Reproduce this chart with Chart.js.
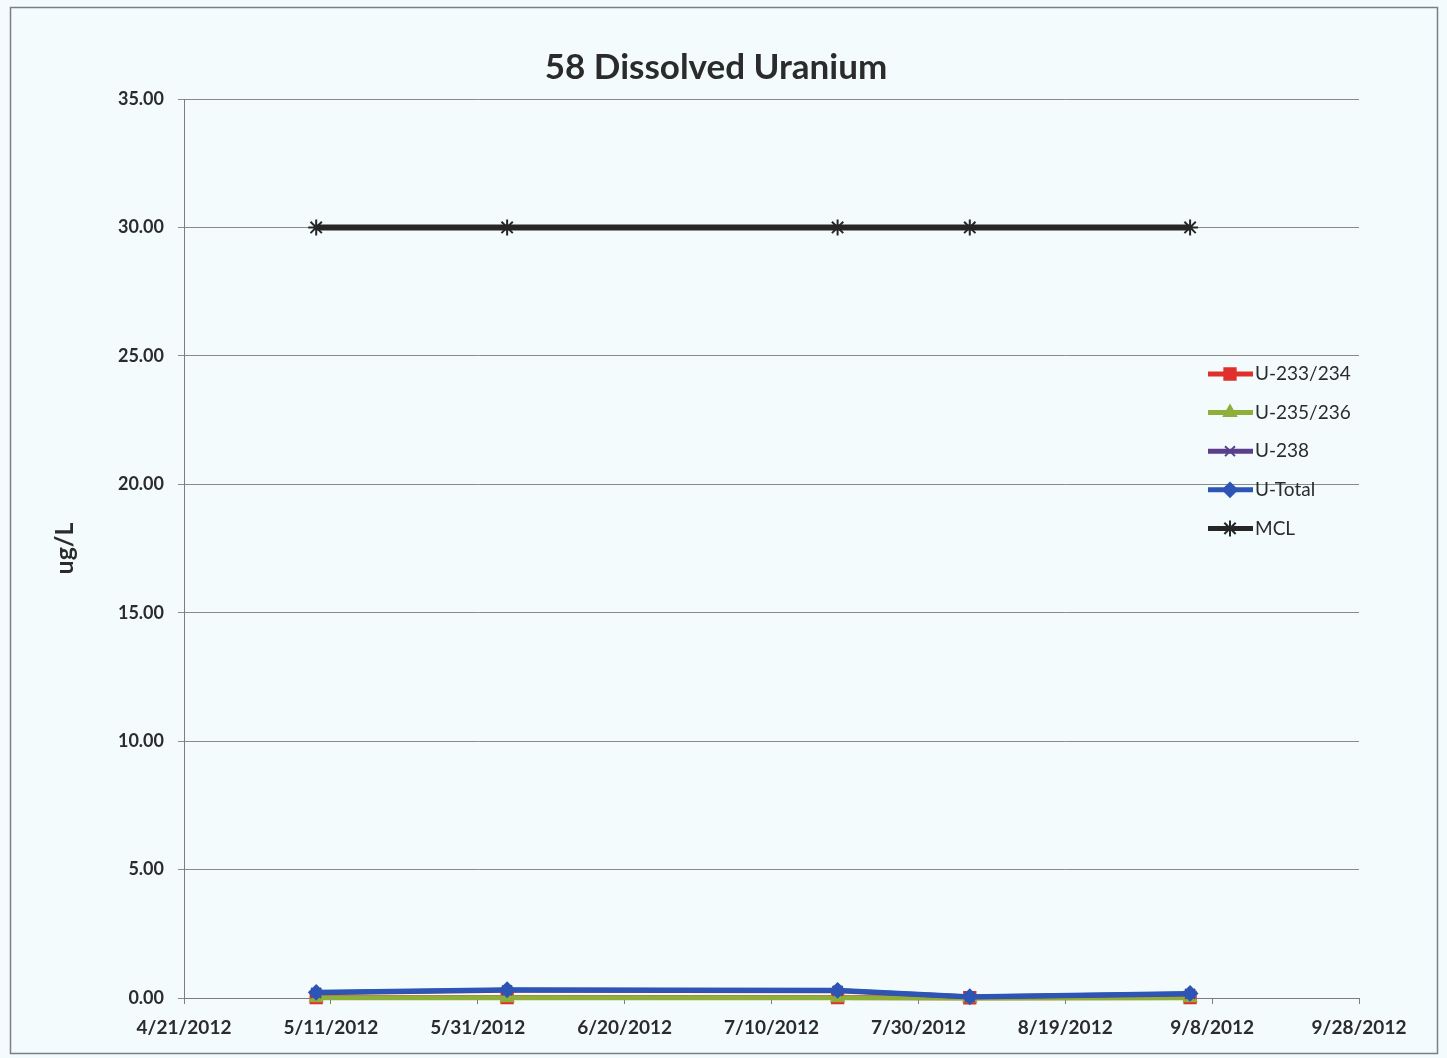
<!DOCTYPE html>
<html>
<head>
<meta charset="utf-8">
<script src="https://cdn.jsdelivr.net/npm/chart.js@4.4.1/dist/chart.umd.min.js"></script>
<style>
  html, body { margin: 0; padding: 0; background: #f3fbfc; }
  #wrap { width: 1447px; height: 1058px; }
</style>
</head>
<body>
<div id="wrap"><canvas id="uraniumChart" width="1447" height="1058"></canvas></div>
<script>
// sample dates and results (ug/L)
const sampleDates = ['5/9/2012', '6/4/2012', '7/19/2012', '8/6/2012', '9/5/2012'];
const u233_234 = [0.02, 0.02, 0.02, 0.01, 0.02];
const u235_236 = [0.01, 0.01, 0.01, 0.00, 0.01];
const u238 = [0.20, 0.30, 0.28, 0.04, 0.16];
const uTotal = [0.22, 0.32, 0.30, 0.05, 0.18];
const mcl = [30, 30, 30, 30, 30];

const xTickLabels = ['4/21/2012', '5/11/2012', '5/31/2012', '6/20/2012', '7/10/2012',
    '7/30/2012', '8/19/2012', '9/8/2012', '9/28/2012'];
const yTickLabels = ['0.00', '5.00', '10.00', '15.00', '20.00', '25.00', '30.00', '35.00'];

const startDate = new Date(2012, 3, 21);

function dayOffset(str) {
    const p = str.split('/');
    const d = new Date(+p[2], +p[0] - 1, +p[1]);
    return Math.round((d - startDate) / 86400000);
}

function points(values) {
    return sampleDates.map((s, i) => ({ x: dayOffset(s), y: values[i] }));
}

const series = [
    { label: 'U-233/234', data: u233_234, color: '#e0302c', style: 'rect', radius: 8, order: 4 },
    { label: 'U-235/236', data: u235_236, color: '#8fae3a', style: 'triangle', radius: 7, order: 3 },
    { label: 'U-238', data: u238, color: '#5b3f8c', style: 'crossRot', radius: 7, order: 2 },
    { label: 'U-Total', data: uTotal, color: '#2d55b5', style: 'rectRot', radius: 7, order: 1 },
    { label: 'MCL', data: mcl, color: '#262626', style: 'star', radius: 8, order: 0 }
];

// page background and outer frame
const framePlugin = {
    id: 'frame',
    beforeDraw(chart) {
        const c = chart.ctx;
        c.save();
        c.fillStyle = '#f3fbfc';
        c.fillRect(0, 0, chart.width, chart.height);
        c.strokeStyle = '#7a7f86';
        c.lineWidth = 1.5;
        c.strokeRect(10.5, 7.5, 1427, 1046);
        c.restore();
    }
};

// legend sitting inside the plot, like the Excel original
const legendPlugin = {
    id: 'insideLegend',
    afterDraw(chart) {
        const c = chart.ctx;
        c.save();
        c.font = '19px Lato';
        c.textBaseline = 'middle';
        series.forEach((s, i) => {
            const y = 374 + i * 38.6;
            c.strokeStyle = s.color;
            c.lineWidth = 5;
            c.beginPath();
            c.moveTo(1208, y);
            c.lineTo(1253, y);
            c.stroke();
            c.fillStyle = s.color;
            c.lineWidth = 2;
            Chart.helpers.drawPoint(c, { pointStyle: s.style, radius: s.radius, rotation: 0, borderWidth: 2 }, 1230, y);
            c.fillStyle = '#2b2b2b';
            c.fillText(s.label, 1255, y);
        });
        c.restore();
    }
};

const ctx = document.getElementById('uraniumChart').getContext('2d');
new Chart(ctx, {
    type: 'line',
    data: {
        datasets: series.map(s => ({
            label: s.label,
            data: points(s.data),
            borderColor: s.color,
            backgroundColor: s.color,
            borderWidth: s.label === 'MCL' ? 6 : 5,
            pointStyle: s.style,
            pointRadius: s.radius,
            pointBorderWidth: 2,
            pointBorderColor: s.color,
            pointBackgroundColor: s.color,
            tension: 0,
            clip: false,
            order: s.order
        }))
    },
    options: {
        responsive: false,
        animation: false,
        layout: { padding: { top: 99, right: 88, bottom: 0, left: 0 } },
        plugins: {
            legend: { display: false },
            tooltip: { enabled: false },
            title: { display: false }
        },
        scales: {
            x: {
                type: 'linear',
                min: 0,
                max: 160,
                afterFit(scale) { scale.height = 60; },
                ticks: {
                    stepSize: 20,
                    padding: 12,
                    maxRotation: 0,
                    color: '#2b2b2b',
                    font: { family: 'Lato', size: 19, weight: 'bold' },
                    callback: (v, i) => xTickLabels[i]
                },
                grid: { drawOnChartArea: false, drawTicks: true, tickLength: 6, color: '#7d7d7d' },
                border: { color: '#7d7d7d', width: 1 }
            },
            y: {
                min: 0,
                max: 35,
                afterFit(scale) { scale.width = 184; },
                ticks: {
                    stepSize: 5,
                    padding: 14,
                    color: '#2b2b2b',
                    font: { family: 'Lato', size: 18, weight: 'bold' },
                    callback: (v, i) => yTickLabels[i]
                },
                grid: { color: '#8a8a8a', lineWidth: 1, tickLength: 6 },
                border: { color: '#7d7d7d', width: 1 },
                title: {
                    display: true,
                    text: 'ug/L',
                    color: '#2b2b2b',
                    font: { family: 'Lato', size: 25, weight: 'bold' },
                    padding: { top: 50, bottom: 0 }
                }
            }
        }
    },
    plugins: [framePlugin, legendPlugin, {
        id: 'topTitle',
        afterDraw(chart) {
            const c = chart.ctx;
            c.save();
            c.font = 'bold 35px Lato';
            c.fillStyle = '#2b2b2b';
            c.textAlign = 'center';
            c.textBaseline = 'middle';
            c.fillText('58 Dissolved Uranium', 716, 68);
            c.restore();
        }
    }]
});
</script>
</body>
</html>
